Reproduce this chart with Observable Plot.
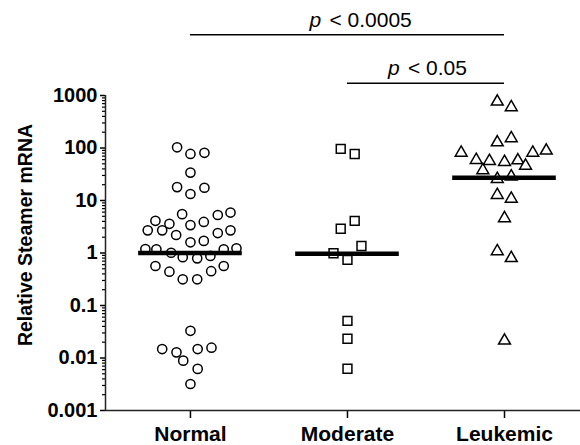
<!DOCTYPE html>
<html><head><meta charset="utf-8">
<script src="https://cdn.jsdelivr.net/npm/d3@7"></script>
<script src="https://cdn.jsdelivr.net/npm/@observablehq/plot@0.6"></script>
<style>body{margin:0;background:#fff} svg{display:block}</style>
</head><body><div id="chart"></div>
<script>
// ---- data ----
const groups = ["Normal", "Moderate", "Leukemic"];
const normalValues = [103, 77, 81, 34, 18, 13.3, 17.5, 5.5, 5.3, 5.9, 4.1, 3.6, 3.4, 3.9, 2.7, 2.7, 2.2, 2.4, 2.7, 1.6, 1.7,
  1.19, 1.18, 1.01, 0.83, 0.79, 0.88, 1.18, 1.23, 0.565, 0.44, 0.315, 0.315, 0.45, 0.565,
  0.033, 0.0148, 0.0128, 0.0089, 0.0148, 0.0157, 0.0062, 0.0032];
const normalJitter = [-0.085, 0, 0.089, 0, -0.085, 0, 0.089, -0.053, 0.174, 0.255, -0.223, -0.134, 0, 0.085, -0.272, -0.18, -0.091, 0.174, 0.255, 0, 0.085,
  -0.287, -0.217, -0.123, -0.049, 0.043, 0.127, 0.212, 0.293, -0.223, -0.134, -0.049, 0.043, 0.132, 0.212,
  0, -0.18, -0.089, -0.046, 0.046, 0.134, 0.046, 0];
const moderateValues = [96, 77, 2.9, 4.1, 0.99, 0.74, 1.36, 0.051, 0.0233, 0.00625];
const moderateJitter = [-0.043, 0.046, -0.043, 0.046, -0.089, 0, 0.089, 0, 0, 0];
const leukemicValues = [762, 596, 128, 153, 81, 81, 89, 59, 56.5, 54, 58, 46, 37.6, 25.7, 28.6, 12.7, 10.8, 4.6, 1.08, 0.80, 0.0214];
const leukemicJitter = [-0.046, 0.043, -0.046, 0.043, -0.276, 0.18, 0.266, -0.18, -0.096, 0, 0.085, 0.134, -0.138, -0.046, 0.043, -0.046, 0.043, 0, -0.046, 0.043, 0];
const medians = [1.0, 0.97, 27];
const yTickValues = [0.001, 0.01, 0.1, 1, 10, 100, 1000];
const yTickLabels = ["0.001", "0.01", "0.1", "1", "10", "100", "1000"];
const comparisonFrom = [0, 1];
const comparisonTo = [2, 2];
const comparisonLabels = ["< 0.0005", "< 0.05"];
const comparisonLevels = [14330, 1715];

// ---- derived tables ----
const mk = (vals, jit, g) => vals.map((v, i) => ({group: g, x: g + jit[i], value: v}));
const normalPts = mk(normalValues, normalJitter, 0);
const moderatePts = mk(moderateValues, moderateJitter, 1);
const leukemicPts = mk(leukemicValues, leukemicJitter, 2);
const medianRows = medians.map((m, i) => ({x1: i - 0.33, x2: i + 0.33, median: m}));
const comps = comparisonLabels.map((l, i) => ({from: comparisonFrom[i], to: comparisonTo[i], mid: (comparisonFrom[i] + comparisonTo[i]) / 2, label: l, level: comparisonLevels[i]}));
const minorTicks = [];
for (let k = 0; k < yTickValues.length - 1; k++) for (let m = 2; m <= 9; m++) minorTicks.push(m * yTickValues[k]);

const xDomain = [-0.541, 2.484];
const font = "'Liberation Sans', Arial, sans-serif";

const chart = Plot.plot({
  width: 580, height: 445,
  marginLeft: 105, marginRight: 0, marginTop: 95, marginBottom: 35,
  style: {fontFamily: font, fontSize: "20px", fontWeight: "bold", color: "black", background: "white"},
  x: {type: "linear", domain: xDomain, axis: null},
  y: {type: "log", domain: [0.001, 1000], axis: null},
  marks: [
    Plot.axisY({ticks: minorTicks, tickSize: 3, tickFormat: () => "", label: null, strokeWidth: 1.2}),
    Plot.axisY({ticks: yTickValues, tickSize: 5, tickPadding: 3, tickFormat: (d) => yTickLabels[yTickValues.indexOf(d)], label: null, strokeWidth: 1.5}),
    Plot.axisX({ticks: [0, 1, 2], tickSize: 8, tickPadding: 8, tickFormat: (d) => groups[d], label: null, strokeWidth: 1.5, fontSize: 21}),
    Plot.ruleX([xDomain[0]], {y1: 0.001, y2: 1000, stroke: "#222", strokeWidth: 1.5}),
    Plot.ruleY([0.001], {stroke: "#222", strokeWidth: 1.5}),
    Plot.text(["Relative Steamer mRNA"], {frameAnchor: "left", textAnchor: "middle", rotate: -90, dx: -80, dy: -18, fontSize: 19.5, fontWeight: "bold"}),
    Plot.dot(normalPts, {x: "x", y: "value", symbol: "circle", r: 4.6, stroke: "black", fill: "white", strokeWidth: 1.5}),
    Plot.dot(moderatePts, {x: "x", y: "value", symbol: "square", r: 5, stroke: "black", fill: "white", strokeWidth: 1.5}),
    Plot.dot(leukemicPts, {x: "x", y: "value", symbol: "triangle", r: 4.4, stroke: "black", fill: "white", strokeWidth: 1.5}),
    Plot.ruleY(medianRows, {y: "median", x1: "x1", x2: "x2", stroke: "black", strokeWidth: 4.5}),
    Plot.ruleY(comps, {y: "level", x1: "from", x2: "to", stroke: "black", strokeWidth: 1.5}),
    Plot.text(comps, {x: "mid", y: "level", text: () => "p", textAnchor: "start", lineAnchor: "bottom", dx: -38, dy: -8, fontStyle: "italic", fontWeight: "normal", fontSize: 21}),
    Plot.text(comps, {x: "mid", y: "level", text: "label", textAnchor: "start", lineAnchor: "bottom", dx: -18, dy: -8, fontWeight: "normal", fontSize: 21})
  ]
});
document.getElementById("chart").append(chart);
</script>
</body></html>
